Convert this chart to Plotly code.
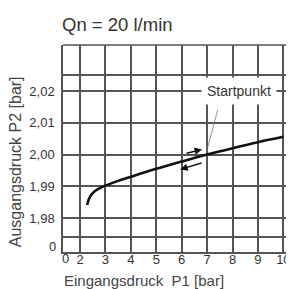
import plotly.graph_objects as go

# Data
p1 = [2.28, 2.35, 2.45, 2.6, 2.8, 3.0, 3.5, 4.0, 5.0, 6.0, 7.0, 8.0, 9.0, 10.0]
p2 = [1.9841, 1.9860, 1.9874, 1.9886, 1.9895, 1.9902, 1.9917, 1.9930, 1.9955, 1.9978, 2.0000, 2.0020, 2.0039, 2.0056]

x_ticks = [2, 3, 4, 5, 6, 7, 8, 9, 10]
x_ticklabels = ["2", "3", "4", "5", "6", "7", "8", "9", "10"]
y_ticks = [1.974, 1.98, 1.99, 2.00, 2.01, 2.02, 2.025]
y_ticklabels = ["", "1,98", "1,99", "2,00", "2,01", "2,02", ""]

title_text = "Qn = 20 l/min"
x_title = "Eingangsdruck&nbsp;&nbsp;P1 [bar]"
y_title = "Ausgangsdruck P2 [bar]"
label_text = "Startpunkt"

# hysteresis arrows: (tail_x, tail_y, head_x, head_y)
arrow_up = (6.13, 2.0003, 6.80, 2.0016)
arrow_down = (6.84, 1.9975, 5.94, 1.9953)
leader = (7.43, 2.0145, 6.98, 2.0010)

x_range = [1.33, 10.3]
y_range = [1.9693, 2.0345]

font = "Liberation Sans, Arial, sans-serif"
grid = "#555555"

fig = go.Figure()
fig.add_trace(go.Scatter(x=p1, y=p2, mode="lines",
                         line=dict(color="#111111", width=2.6, shape="spline"),
                         showlegend=False, hoverinfo="skip"))

# page body has an 8px margin, so the figure is shrunk and offset accordingly
fig.update_layout(
    width=286, height=281,
    margin=dict(l=55, r=3, t=37, b=37, autoexpand=False),
    paper_bgcolor="white", plot_bgcolor="white",
    font=dict(family=font, size=13, color="#333333"),
    showlegend=False,
)
fig.update_xaxes(range=x_range, tickvals=x_ticks, ticktext=x_ticklabels,
                 showgrid=True, gridcolor=grid, gridwidth=1.5,
                 showline=True, linecolor=grid, linewidth=1.5, mirror=False,
                 ticks="", zeroline=False, automargin=False,
                 tickfont=dict(size=13, color="#333"),
                 ticklabelstandoff=-5)
fig.update_yaxes(range=y_range, tickvals=y_ticks, ticktext=y_ticklabels,
                 showgrid=True, gridcolor=grid, gridwidth=1.5,
                 showline=True, linecolor=grid, linewidth=1.5,
                 ticks="", zeroline=False, automargin=False,
                 tickfont=dict(size=13, color="#333"),
                 ticklabelstandoff=4)

# top border
fig.add_shape(type="line", xref="paper", yref="paper", x0=0, x1=1, y0=1, y1=1,
              line=dict(color=grid, width=1.5))

def paper_text(text, x, y, size, color="#333", angle=0):
    fig.add_annotation(text=text, xref="paper", yref="paper", x=x, y=y,
                       xanchor="center", yanchor="middle", textangle=angle,
                       showarrow=False, font=dict(size=size, color=color))

# titles
paper_text(title_text, 0.237, 1.101, 18.5)
paper_text(x_title, 0.357, -0.14, 15, "#444")
paper_text(y_title, -0.205, 0.435, 16, "#444", angle=-90)

# axis-break zeros
paper_text("0", -0.045, 0.025, 13)
paper_text("0", 0.01, -0.03, 13)

# Startpunkt label with white box
fig.add_annotation(text=label_text, x=8.25, y=2.0200, showarrow=False,
                   bgcolor="white", borderpad=5, font=dict(size=14, color="#333"))
fig.add_annotation(x=leader[2], y=leader[3], ax=leader[0], ay=leader[1],
                   xref="x", yref="y", axref="x", ayref="y",
                   showarrow=True, arrowhead=0, arrowwidth=0.8, arrowcolor="#777", text="")

for a in (arrow_up, arrow_down):
    fig.add_annotation(x=a[2], y=a[3], ax=a[0], ay=a[1],
                       xref="x", yref="y", axref="x", ayref="y",
                       showarrow=True, arrowhead=2, arrowsize=1, arrowwidth=1.5,
                       arrowcolor="#111", text="")

fig.write_html("out.html")
